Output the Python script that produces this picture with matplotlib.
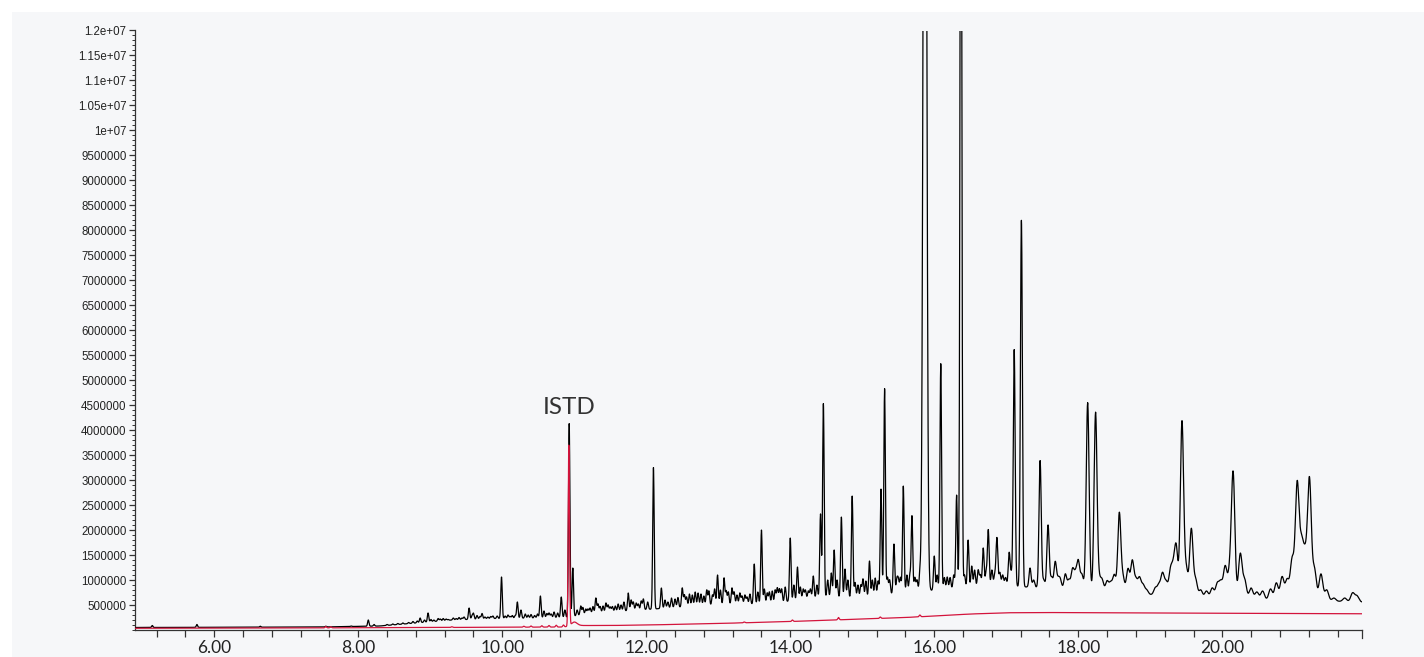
import matplotlib
matplotlib.use("Agg")
import matplotlib.pyplot as plt
import numpy as np
from matplotlib.patches import Rectangle
from matplotlib.ticker import FuncFormatter, MultipleLocator

# retention time range of the run [min]
t_start = 4.90
t_end = 21.94

# black trace: underlying baseline hump (time, abundance)
tic_base_t = [4.90, 7.5, 8.3, 8.8, 9.3, 9.9, 10.5, 10.9, 11.2, 12.0, 12.7, 13.3, 13.7, 14.0,
              14.5, 15.0, 15.5, 16.2, 16.6, 17.0, 17.6, 18.0, 18.4, 18.8, 19.0, 19.7, 20.0,
              20.4, 20.7, 21.0, 21.5, 21.94]
tic_base_y = [50e3, 60e3, 80e3, 140e3, 200e3, 230e3, 240e3, 250e3, 330e3, 410e3, 480e3, 520e3,
              510e3, 580e3, 660e3, 640e3, 740e3, 820e3, 880e3, 880e3, 840e3, 800e3, 790e3,
              750e3, 710e3, 650e3, 660e3, 630e3, 590e3, 620e3, 580e3, 560e3]

# black trace: main peaks (apex time, apex abundance)
tic_peak_rt = [
    5.14, 5.76, 6.64, 7.55, 7.90, 8.14, 8.22, 8.55, 8.62, 8.70, 8.76, 8.86, 8.97, 9.05, 9.11,
    9.18, 9.25, 9.32, 9.40, 9.47, 9.54, 9.60, 9.65, 9.72, 9.80, 9.87, 9.99, 10.08, 10.14,
    10.21, 10.26, 10.32, 10.40, 10.53, 10.58, 10.65, 10.72, 10.82, 10.87, 10.93, 10.98,
    11.04, 11.09, 11.16, 11.22, 11.30, 11.36, 11.44, 11.50, 11.57, 11.65, 11.75, 11.82,
    11.89, 11.96, 12.10, 12.21, 12.30, 12.40, 12.50, 12.56, 12.64, 12.72, 12.80, 12.87,
    12.92, 12.99, 13.08, 13.14, 13.19, 13.26, 13.33, 13.40, 13.50, 13.60, 13.68, 13.75,
    13.82, 13.88, 14.00, 14.10, 14.18, 14.25, 14.32, 14.42, 14.46, 14.57, 14.61, 14.71,
    14.76, 14.86, 14.94, 15.01, 15.10, 15.18, 15.26, 15.31, 15.38, 15.44, 15.50, 15.57,
    15.62, 15.69, 15.76, 15.80, 15.87, 16.00, 16.09, 16.18, 16.31, 16.37, 16.47, 16.52,
    16.56, 16.61, 16.68, 16.75, 16.80, 16.87, 16.95, 17.04, 17.11, 17.21, 17.33, 17.47,
    17.58, 17.68, 17.75, 17.82, 17.92, 18.00, 18.13, 18.24, 18.33, 18.40, 18.50, 18.57,
    18.69, 18.75, 18.85, 18.95, 19.07, 19.17, 19.28, 19.36, 19.44, 19.57, 19.70, 19.86,
    19.93, 20.04, 20.15, 20.25, 20.40, 20.67, 20.75, 20.83, 21.04, 21.10, 21.21, 21.37,
    21.81,
]
tic_peak_top = [
    90e3, 110e3, 75e3, 75e3, 80e3, 200e3, 110e3, 130e3, 140e3, 150e3, 170e3, 240e3, 340e3,
    200e3, 230e3, 230e3, 210e3, 240e3, 250e3, 260e3, 440e3, 330e3, 290e3, 330e3, 260e3,
    280e3, 1.06e6, 300e3, 290e3, 560e3, 400e3, 320e3, 310e3, 680e3, 380e3, 340e3, 360e3,
    660e3, 400e3, 4.13e6, 1.24e6, 400e3, 480e3, 420e3, 440e3, 640e3, 470e3, 540e3, 460e3,
    480e3, 500e3, 740e3, 560e3, 520e3, 620e3, 3.25e6, 840e3, 560e3, 620e3, 840e3, 660e3,
    700e3, 740e3, 680e3, 780e3, 700e3, 1.10e6, 1.04e6, 760e3, 840e3, 700e3, 680e3, 660e3,
    1.32e6, 2.00e6, 740e3, 780e3, 840e3, 820e3, 1.84e6, 1.26e6, 820e3, 780e3, 1.08e6,
    2.32e6, 4.53e6, 1.14e6, 1.60e6, 2.26e6, 1.22e6, 2.68e6, 900e3, 1.02e6, 1.38e6, 1.04e6,
    2.82e6, 4.83e6, 1.00e6, 1.72e6, 1.00e6, 2.88e6, 1.10e6, 2.28e6, 1.00e6, 1.10e6, 2.5e7,
    1.48e6, 5.33e6, 1.06e6, 2.70e6, 2.0e7, 1.80e6, 1.28e6, 1.20e6, 1.20e6, 1.64e6, 2.00e6,
    1.20e6, 1.84e6, 1.10e6, 1.54e6, 5.61e6, 8.20e6, 1.24e6, 3.39e6, 2.10e6, 1.36e6, 1.00e6,
    1.12e6, 1.20e6, 1.36e6, 4.55e6, 4.35e6, 1.00e6, 980e3, 1.10e6, 2.34e6, 1.22e6, 1.38e6,
    1.04e6, 800e3, 840e3, 1.12e6, 1.16e6, 1.62e6, 4.17e6, 2.02e6, 800e3, 840e3, 920e3,
    1.26e6, 3.13e6, 1.52e6, 840e3, 820e3, 940e3, 1.06e6, 2.90e6, 1.64e6, 3.00e6, 1.12e6,
    740e3,
]

# black trace: small unresolved bumps between the main peaks
tic_small_rt = [
    8.40, 8.48, 8.82, 8.92, 9.01, 9.14, 9.22, 9.36, 9.44, 9.58, 9.69, 9.76, 9.84, 9.93,
    10.04, 10.11, 10.18, 10.36, 10.45, 10.49, 10.62, 10.68, 10.77,
    11.12, 11.19, 11.26, 11.33, 11.40, 11.47, 11.53, 11.61, 11.69, 11.79, 11.86, 11.93,
    12.02, 12.26, 12.35, 12.44, 12.53, 12.60, 12.68, 12.76, 12.84, 12.95, 13.03,
    13.11, 13.22, 13.30, 13.37, 13.44, 13.55, 13.64, 13.71, 13.79, 13.85, 13.93, 14.05,
    14.14, 14.21, 14.28, 14.37, 14.52, 14.65, 14.80, 14.90, 14.98, 15.05, 15.14, 15.22,
    15.35, 15.48, 15.53, 15.66, 15.73, 16.04, 16.14, 16.22, 16.27, 16.42, 16.64, 16.72,
    16.84, 16.91, 16.99, 17.07, 17.38, 17.52, 17.63, 17.72, 17.87, 17.96, 18.05, 18.29,
    18.45, 18.62, 18.80, 18.90, 19.12, 19.22, 19.32, 19.50, 19.63, 19.78, 19.98, 20.10,
    20.31, 20.48, 20.56, 20.90, 20.97, 21.15, 21.28, 21.45, 21.55, 21.70, 21.87,
]
tic_small_top = [
    110e3, 120e3, 180e3, 200e3, 210e3, 220e3, 220e3, 230e3, 240e3, 280e3, 270e3, 260e3,
    270e3, 280e3, 280e3, 270e3, 290e3, 300e3, 290e3, 320e3, 330e3, 320e3, 340e3,
    450e3, 420e3, 470e3, 520e3, 480e3, 500e3, 470e3, 520e3, 560e3, 600e3, 540e3, 580e3,
    560e3, 600e3, 640e3, 650e3, 700e3, 720e3, 760e3, 720e3, 800e3, 820e3, 800e3,
    780e3, 760e3, 740e3, 700e3, 720e3, 760e3, 820e3, 760e3, 800e3, 820e3, 860e3, 900e3,
    860e3, 800e3, 820e3, 900e3, 1.0e6, 1.0e6, 1.0e6, 950e3, 900e3, 980e3, 1.0e6, 980e3,
    1.05e6, 1.0e6, 1.05e6, 1.1e6, 1.05e6, 1.1e6, 1.05e6, 1.05e6, 1.1e6, 1.1e6, 1.1e6,
    1.15e6, 1.1e6, 1.15e6, 1.05e6, 1.1e6, 1.0e6, 1.0e6, 1.05e6, 1.0e6, 1.0e6, 1.1e6,
    1.1e6, 1.0e6, 950e3, 1.05e6, 1.0e6, 900e3, 900e3, 950e3, 1.15e6, 1.2e6, 1.0e6,
    780e3, 950e3, 1.1e6, 1.0e6, 760e3, 780e3, 1.0e6, 1.4e6, 1.4e6, 1.2e6, 800e3, 640e3,
    640e3, 680e3,
]

# peak width (sigma, min) grows along the run
tic_width_t = [4.90, 16.5, 17.3, 18.0, 21.0, 21.94]
tic_width_s = [0.009, 0.011, 0.014, 0.020, 0.026, 0.026]
# the two overloaded peaks are wider than their neighbours
tic_wide = {15.87: 0.022, 16.37: 0.012}

# red trace (ISTD ion): baseline and peaks
istd_base_t = [4.90, 7.0, 8.0, 9.0, 10.0, 10.85, 11.0, 11.5, 12.0, 13.0, 14.0, 15.0, 15.6,
               16.0, 16.5, 17.0, 17.5, 18.5, 20.0, 21.94]
istd_base_y = [35e3, 40e3, 45e3, 50e3, 55e3, 60e3, 90e3, 90e3, 100e3, 130e3, 170e3, 220e3,
               250e3, 280e3, 320e3, 345e3, 350e3, 345e3, 335e3, 325e3]
istd_peak_rt = [7.55, 7.62, 9.30, 10.30, 10.40, 10.55, 10.65, 10.75, 10.85, 10.925, 11.00,
                13.36, 14.03, 14.67, 15.25, 15.80]
istd_peak_top = [70e3, 65e3, 65e3, 75e3, 80e3, 85e3, 90e3, 95e3, 100e3, 3.71e6, 160e3,
                 160e3, 200e3, 250e3, 260e3, 300e3]
istd_peak_s = [0.01, 0.01, 0.01, 0.01, 0.01, 0.01, 0.01, 0.01, 0.01, 0.009, 0.04,
               0.01, 0.01, 0.01, 0.01, 0.01]

istd_label = "ISTD"
istd_rt = 10.93
istd_apex = 4.13e6


def build_trace(t, base_t, base_y, rts, tops, sigmas):
    y = np.interp(t, base_t, base_y)
    for rt, top, s in zip(rts, tops, sigmas):
        amp = top - np.interp(rt, base_t, base_y)
        y += amp * np.exp(-0.5 * ((t - rt) / s) ** 2)
    return y


t = np.arange(t_start, t_end + 0.001, 0.002)

rts = tic_peak_rt + tic_small_rt
tops = tic_peak_top + tic_small_top
tic_sigma = [tic_wide.get(rt, np.interp(rt, tic_width_t, tic_width_s)) for rt in rts]
tic = build_trace(t, tic_base_t, tic_base_y, rts, tops, tic_sigma)
istd = build_trace(t, istd_base_t, istd_base_y, istd_peak_rt, istd_peak_top, istd_peak_s)

bg = "#f6f7f9"
fig = plt.figure(figsize=(14.24, 6.57), dpi=100, facecolor="white")
fig.patches.append(Rectangle((12 / 1424, 0), 1, 1 - 12 / 657, transform=fig.transFigure,
                             facecolor=bg, edgecolor="none", zorder=-10))

ax = fig.add_axes([135 / 1424, 1 - 630 / 657, (1362 - 135) / 1424, (630 - 30.5) / 657])
ax.set_facecolor(bg)

ax.plot(t, tic, color="black", lw=0.9, zorder=3)
ax.plot(t, istd, color="#d3143c", lw=0.9, zorder=4)

ax.text(istd_rt, istd_apex + 190e3, istd_label, ha="center", va="baseline",
        fontsize=17.5, family="Lato", color="#333333")

ax.set_xlim(t_start, t_end)
ax.set_ylim(0, 1.2e7)

for side in ("top", "right"):
    ax.spines[side].set_visible(False)
for side in ("left", "bottom"):
    ax.spines[side].set_color("#333333")
    ax.spines[side].set_linewidth(0.9)

ax.xaxis.set_major_locator(MultipleLocator(2.0))
ax.xaxis.set_minor_locator(MultipleLocator(0.4))
ax.xaxis.set_major_formatter(FuncFormatter(lambda v, p: f"{v:.2f}"))
ax.tick_params(axis="x", which="both", direction="out", length=5, width=0.9,
               color="#333333", labelsize=12.5, labelcolor="#222222", pad=2)
for lbl in ax.get_xticklabels():
    lbl.set_family("Lato")

ax.set_yticks(np.arange(500000, 1.2e7 + 1, 500000))
ax.yaxis.set_minor_locator(MultipleLocator(100000))
ax.yaxis.set_major_formatter(FuncFormatter(
    lambda v, p: f"{v:g}" if v >= 1e7 else f"{int(round(v))}"))
ax.tick_params(axis="y", which="major", direction="out", length=4, width=0.9,
               color="#333333", labelsize=8.3, labelcolor="#222222", pad=2)
ax.tick_params(axis="y", which="minor", direction="out", length=2, width=0.7,
               color="#333333")
for lbl in ax.get_yticklabels():
    lbl.set_family("Liberation Sans")

# closing tick at the end of the time axis
ax.plot([t_end, t_end], [0, -0.014], color="#333333", lw=0.9, clip_on=False,
        transform=ax.get_xaxis_transform())

fig.savefig("out.png", dpi=100, facecolor=fig.get_facecolor())
